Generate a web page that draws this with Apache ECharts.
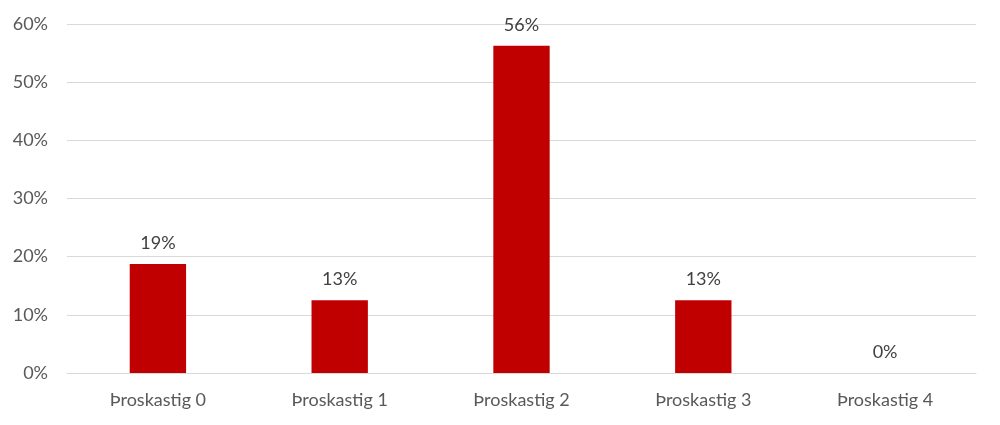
<!DOCTYPE html>
<html>
<head>
<meta charset="utf-8">
<script src="https://cdn.jsdelivr.net/npm/echarts@6/dist/echarts.min.js"></script>
<style>html,body{margin:0;padding:0;background:#fff}#c{width:1000px;height:425px}</style>
</head>
<body>
<div id="c"></div>
<script>
const categories = ['Þroskastig 0', 'Þroskastig 1', 'Þroskastig 2', 'Þroskastig 3', 'Þroskastig 4'];
const values = [18.75, 12.5, 56.25, 12.5, 0];
const yTicks = [0, 10, 20, 30, 40, 50, 60];

const chart = echarts.init(document.getElementById('c'), null, {renderer: 'canvas'});
const font = 'Lato, "Open Sans", sans-serif';
chart.setOption({
  animation: false,
  grid: {left: 67, right: 24, top: 24, bottom: 52, containLabel: false},
  xAxis: {
    type: 'category',
    data: categories,
    axisLine: {show: true, lineStyle: {color: '#d9d9d9', width: 1}},
    axisTick: {show: false},
    axisLabel: {color: '#595959', fontSize: 18, fontFamily: font, margin: 18}
  },
  yAxis: {
    type: 'value',
    min: yTicks[0],
    max: yTicks[yTicks.length - 1],
    interval: 10,
    axisLine: {show: false},
    axisTick: {show: false},
    splitLine: {lineStyle: {color: '#d9d9d9', width: 1}},
    axisLabel: {color: '#595959', fontSize: 18, fontFamily: font, margin: 19, formatter: v => v + '%'}
  },
  series: [{
    type: 'bar',
    data: values,
    barWidth: '31%',
    itemStyle: {color: '#C00000'},
    label: {
      show: true,
      position: 'top',
      distance: 12,
      color: '#404040',
      fontSize: 18,
      fontFamily: font,
      formatter: p => Math.round(p.value) + '%'
    }
  }]
});
</script>
</body>
</html>
